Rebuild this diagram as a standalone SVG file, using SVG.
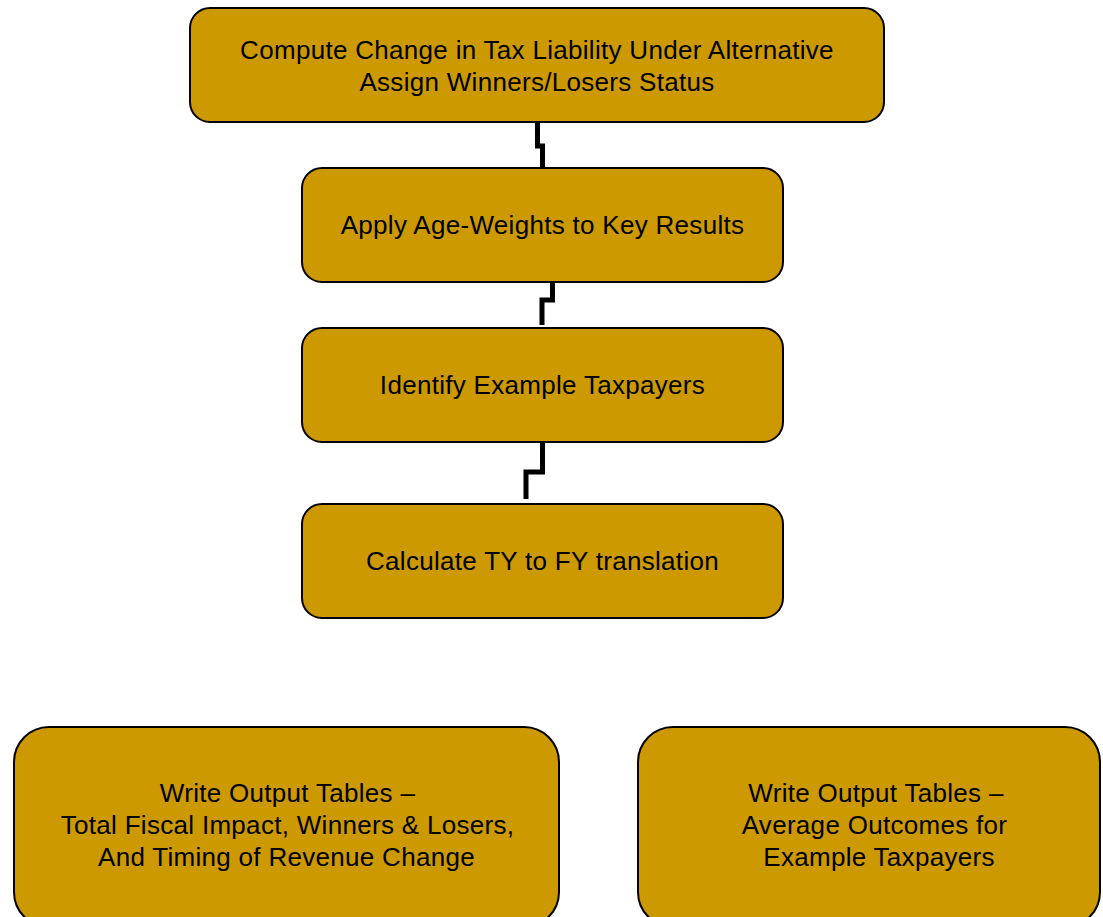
<svg xmlns="http://www.w3.org/2000/svg" width="1103" height="917" viewBox="0 0 1103 917">
<style>
.box{fill:#CC9900;stroke:#000;stroke-width:2}
.t{font-family:"Liberation Sans",Arial,sans-serif;font-size:26px;letter-spacing:0.3px;fill:#000;text-anchor:middle}
.c{fill:none;stroke:#000;stroke-width:5}
</style>
<rect width="1103" height="917" fill="#fff"/>
<g id="connectors">
<path class="c" d="M537.5,122 V146 H542.5 V168"/>
<path class="c" d="M552.5,282 V300 H542 V325"/>
<path class="c" d="M542.5,442 V472 H526 V499"/>
</g>
<g id="n1">
<rect class="box" x="190" y="8" width="694" height="114" rx="20"/>
<text class="t" x="537" y="58.5">Compute Change in Tax Liability Under Alternative</text>
<text class="t" x="537" y="91">Assign Winners/Losers Status</text>
</g>
<g id="n2">
<rect class="box" x="302" y="168" width="481" height="114" rx="20"/>
<text class="t" x="542.5" y="233.5">Apply Age-Weights to Key Results</text>
</g>
<g id="n3">
<rect class="box" x="302" y="328" width="481" height="114" rx="20"/>
<text class="t" x="542.5" y="393.5">Identify Example Taxpayers</text>
</g>
<g id="n4">
<rect class="box" x="302" y="504" width="481" height="114" rx="20"/>
<text class="t" x="542.5" y="569.5">Calculate TY to FY translation</text>
</g>
<g id="n5">
<rect class="box" x="14" y="727" width="545" height="200" rx="35"/>
<text class="t" x="287.5" y="802">Write Output Tables –</text>
<text class="t" x="287.5" y="834">Total Fiscal Impact, Winners &amp; Losers,</text>
<text class="t" x="286.5" y="866">And Timing of Revenue Change</text>
</g>
<g id="n6">
<rect class="box" x="638" y="727" width="462" height="200" rx="35"/>
<text class="t" x="876" y="802">Write Output Tables –</text>
<text class="t" x="874.5" y="834">Average Outcomes for</text>
<text class="t" x="879" y="866">Example Taxpayers</text>
</g>
</svg>
